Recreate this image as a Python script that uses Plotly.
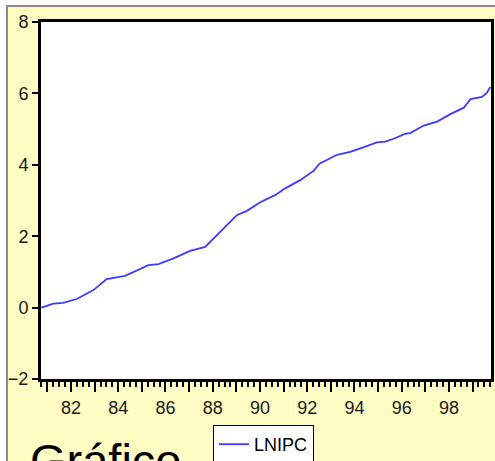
import plotly.graph_objects as go

# Data (decimal years, LNIPC)
years = [80.75, 81.25, 81.67, 82.24, 82.95, 83.51, 84.29, 84.78, 85.28, 85.70,
         86.34, 87.04, 87.68, 89.02, 89.45, 90.01, 90.64, 91.07, 91.70, 92.27,
         92.52, 93.26, 93.82, 94.25, 94.95, 95.31, 95.66, 96.16, 96.36, 96.93,
         97.50, 98.06, 98.63, 98.91, 99.40, 99.61, 99.75]
lnipc = [0.00, 0.11, 0.13, 0.24, 0.49, 0.80, 0.89, 1.05, 1.19, 1.22,
         1.38, 1.59, 1.70, 2.59, 2.71, 2.95, 3.15, 3.34, 3.57, 3.83,
         4.03, 4.28, 4.36, 4.46, 4.63, 4.65, 4.73, 4.87, 4.89, 5.10,
         5.21, 5.42, 5.60, 5.84, 5.90, 6.02, 6.18]
x_tickvals = list(range(81, 100))
x_ticktext = [str(v) if v % 2 == 0 else "" for v in x_tickvals]
y_tickvals = [-2, 0, 2, 4, 6, 8]

W, H = 495, 461
L, R, T, B = 41, 491, 22, 379  # plot area in pixels


def px(xp):
    return (xp - L) / (R - L)


def py(yp):
    return (B - yp) / (B - T)


fig = go.Figure()
fig.add_trace(go.Scatter(x=years, y=lnipc, mode="lines", name="LNIPC",
                         line=dict(color="#3c3cff", width=1.8)))

font = "Liberation Sans, Arial, sans-serif"
fig.update_layout(
    width=W, height=H,
    margin=dict(l=L, r=W - R, t=T, b=H - B, autoexpand=False),
    paper_bgcolor="white",
    plot_bgcolor="white",
    font=dict(family=font, color="#1a1a1a", size=17),
    showlegend=True,
    legend=dict(x=px(213), xanchor="left", y=py(444.5), yanchor="middle",
                bgcolor="white", bordercolor="black", borderwidth=1,
                font=dict(size=18, color="black"),
                itemwidth=30, tracegroupgap=0),
    xaxis=dict(range=[80.73, 99.78], tickvals=x_tickvals, ticktext=x_ticktext,
               ticks="outside", ticklen=10, tickwidth=1.5, tickcolor="black",
               minor=dict(dtick=0.25, tick0=80, ticks="outside", ticklen=5,
                          tickwidth=1.5, tickcolor="black"),
               showgrid=False, zeroline=False,
               showline=True, linecolor="black", linewidth=3, mirror=True,
               tickfont=dict(size=18, color="#1a1a1a")),
    yaxis=dict(range=[-2, 8], tickvals=y_tickvals,
               ticks="outside", ticklen=6, tickwidth=1.5, tickcolor="black",
               showgrid=False, zeroline=False,
               showline=True, linecolor="black", linewidth=3, mirror=True,
               tickfont=dict(size=18, color="#1a1a1a")),
    shapes=[
        dict(type="rect", xref="paper", yref="paper",
             x0=px(7), x1=px(W + 20), y0=py(H + 20), y1=py(6),
             fillcolor="#fffcc4", line=dict(color="#8a8a8a", width=2),
             layer="below"),
        dict(type="rect", xref="paper", yref="paper",
             x0=0, x1=1, y0=0, y1=1,
             fillcolor="white", line=dict(width=0), layer="below"),
    ],
    annotations=[
        dict(text="Gráfico", xref="paper", yref="paper", x=px(28), y=py(432),
             xanchor="left", yanchor="top", showarrow=False,
             font=dict(size=47, color="black", family=font)),
    ],
)

fig.write_html("out.html",
               config={"displayModeBar": False},
               post_script="document.body.style.margin='0px';"
                           "document.body.style.overflow='hidden';")
